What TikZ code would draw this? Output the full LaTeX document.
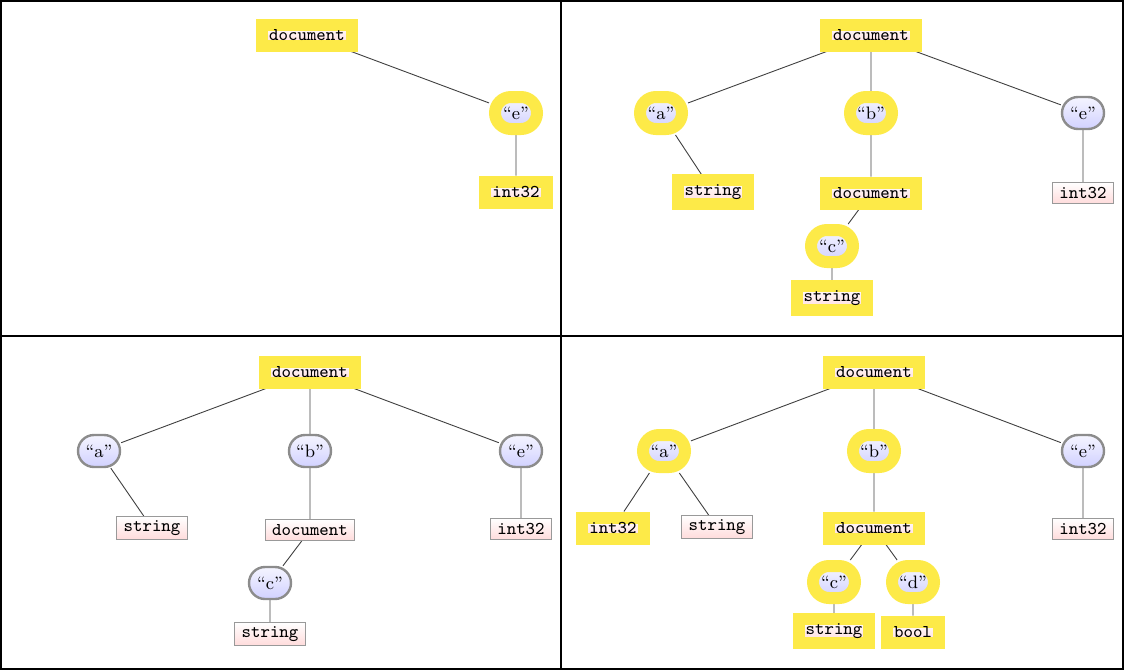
\documentclass[tikz,border=0pt]{standalone}
\usetikzlibrary{backgrounds}
\definecolor{hlyellow}{RGB}{253,234,72}
\begin{document}
\begin{tikzpicture}[x=0.5pt,y=-0.5pt,font=\small,
    key/.style={rounded corners=8pt,draw=black!45,line width=1.2pt,top color=blue!4,bottom color=blue!18,
                minimum width=21pt,minimum height=16pt,inner sep=1pt},
    typ/.style={rectangle,draw=black!40,line width=0.5pt,top color=white,bottom color=red!14,
                inner xsep=3.5pt,inner ysep=2pt,minimum height=10.5pt,font=\small\ttfamily},
    hl/.style={draw=hlyellow,line width=6pt},
    edge/.style={draw=black!75,line width=0.45pt}]
\useasboundingbox (0,0) rectangle (1124,670);
% panel frames
\draw[line width=0.8pt] (1,1) rectangle (1123,669);
\draw[line width=0.8pt] (561,1) -- (561,669);
\draw[line width=0.8pt] (1,336) -- (1123,336);
% panel 1
\node[typ,hl] (d1) at (307,35) {document};
\node[key,hl] (e1) at (516,113) {``e''};
\node[typ,hl] (ei1) at (516,192) {int32};
% panel 2
\node[typ,hl] (d2) at (871,35) {document};
\node[key,hl] (a2) at (661,113) {``a''};
\node[key,hl] (b2) at (871,113) {``b''};
\node[key] (e2) at (1083,113) {``e''};
\node[typ,hl] (as2) at (713,192) {string};
\node[typ,hl] (bd2) at (871,193) {document};
\node[key,hl] (c2) at (832,246) {``c''};
\node[typ,hl] (cs2) at (832,298) {string};
\node[typ] (ei2) at (1083,193) {int32};
% panel 3
\node[typ,hl] (d3) at (310,372) {document};
\node[key] (a3) at (99,451) {``a''};
\node[key] (b3) at (310,451) {``b''};
\node[key] (e3) at (521,451) {``e''};
\node[typ] (as3) at (152,528) {string};
\node[typ] (bd3) at (310,530) {document};
\node[key] (c3) at (270,583) {``c''};
\node[typ] (cs3) at (270,634) {string};
\node[typ] (ei3) at (521,529) {int32};
% panel 4
\node[typ,hl] (d4) at (874,372) {document};
\node[key,hl] (a4) at (664,451) {``a''};
\node[key,hl] (b4) at (874,451) {``b''};
\node[key] (e4) at (1083,451) {``e''};
\node[typ,hl] (ai4) at (613,528) {int32};
\node[typ] (as4) at (717,527) {string};
\node[typ,hl] (bd4) at (874,528) {document};
\node[key,hl] (c4) at (834,582) {``c''};
\node[key,hl] (dd4) at (913,582) {``d''};
\node[typ,hl] (cs4) at (834,631) {string};
\node[typ,hl] (db4) at (913,632) {bool};
\node[typ] (ei4) at (1083,529) {int32};
\begin{scope}[on background layer]
\path[edge] (d1)--(e1) (e1)--(ei1);
\path[edge] (d2)--(a2) (d2)--(b2) (d2)--(e2) (a2)--(as2) (b2)--(bd2) (bd2)--(c2) (c2)--(cs2) (e2)--(ei2);
\path[edge] (d3)--(a3) (d3)--(b3) (d3)--(e3) (a3)--(as3) (b3)--(bd3) (bd3)--(c3) (c3)--(cs3) (e3)--(ei3);
\path[edge] (d4)--(a4) (d4)--(b4) (d4)--(e4) (a4)--(ai4) (a4)--(as4) (b4)--(bd4) (bd4)--(c4) (bd4)--(dd4)
  (c4)--(cs4) (dd4)--(db4) (e4)--(ei4);
\end{scope}
\end{tikzpicture}
\end{document}
